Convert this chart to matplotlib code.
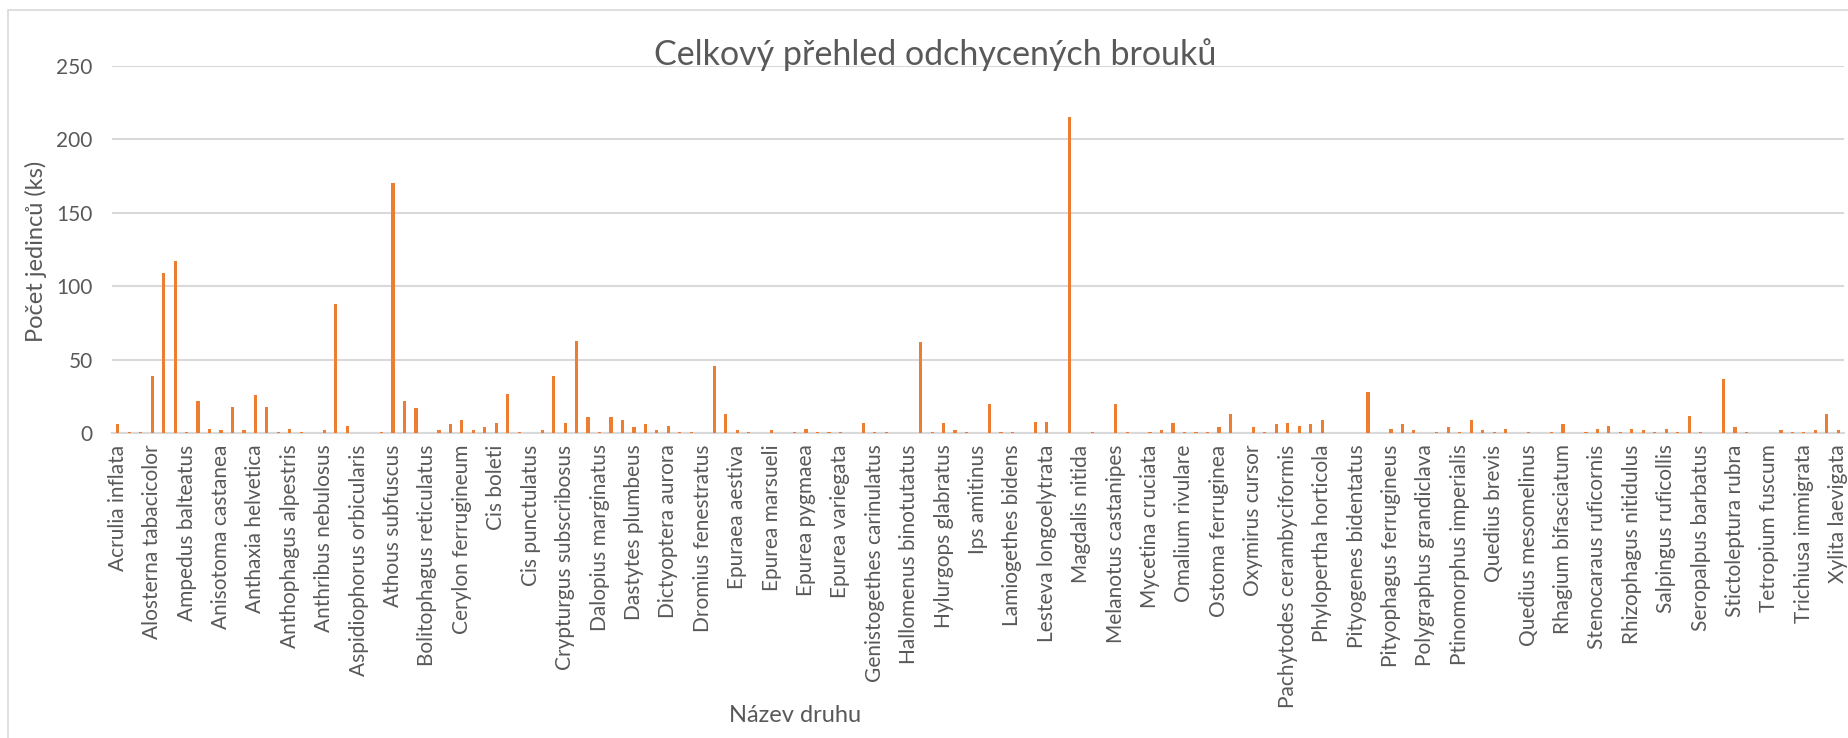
import matplotlib
matplotlib.use("Agg")
import matplotlib.pyplot as plt
from matplotlib.patches import Rectangle
import numpy as np

plt.rcParams['font.family'] = ['Lato', 'DejaVu Sans']

# Counts for all species (151 categories); only every third label is shown
counts = [6, 1, 1, 39, 109, 117, 1, 22, 3, 2, 18, 2, 26, 18, 1, 3, 1, 0, 2, 88,
          5, 0, 0, 1, 170, 22, 17, 0, 2, 6, 9, 2, 4, 7, 27, 1, 0, 2, 39, 7,
          63, 11, 1, 11, 9, 4, 6, 2, 5, 1, 1, 0, 46, 13, 2, 1, 0, 2, 0, 1,
          3, 1, 1, 1, 0, 7, 1, 1, 0, 0, 62, 1, 7, 2, 1, 0, 20, 1, 1, 0,
          8, 8, 0, 215, 0, 1, 0, 20, 1, 0, 1, 2, 7, 1, 1, 1, 4, 13, 0, 4,
          1, 6, 7, 5, 6, 9, 0, 0, 0, 28, 0, 3, 6, 2, 0, 1, 4, 1, 9, 2,
          1, 3, 0, 1, 0, 1, 6, 0, 1, 3, 5, 1, 3, 2, 1, 3, 1, 12, 1, 0,
          37, 4, 1, 0, 0, 2, 1, 1, 2, 13, 2]

shown_labels = [
    "Acrulia inflata", "Alosterna tabacicolor", "Ampedus balteatus",
    "Anisotoma castanea", "Anthaxia helvetica", "Anthophagus alpestris",
    "Anthribus nebulosus", "Aspidiophorus orbicularis", "Athous subfuscus",
    "Bolitophagus reticulatus", "Cerylon ferrugineum", "Cis boleti",
    "Cis punctulatus", "Crypturgus subscribosus", "Dalopius marginatus",
    "Dastytes plumbeus", "Dictyoptera aurora", "Dromius fenestratus",
    "Epuraea aestiva", "Epurea marsueli", "Epurea pygmaea",
    "Epurea variegata", "Genistogethes carinulatus", "Hallomenus binotutatus",
    "Hylurgops glabratus", "Ips amitinus", "Lamiogethes bidens",
    "Lesteva longoelytrata", "Magdalis nitida", "Melanotus castanipes",
    "Mycetina cruciata", "Omalium rivulare", "Ostoma ferruginea",
    "Oxymirus cursor", "Pachytodes cerambyciformis", "Phylopertha horticola",
    "Pityogenes bidentatus", "Pityophagus ferrugineus", "Polygraphus grandiclava",
    "Ptinomorphus imperialis", "Quedius brevis", "Quedius mesomelinus",
    "Rhagium bifasciatum", "Stenocaraus ruficornis", "Rhizophagus nitidulus",
    "Salpingus ruficollis", "Seropalpus barbatus", "Stictoleptura rubra",
    "Tetropium fuscum", "Trichiusa immigrata", "Xylita laevigata",
]

grey_text = "#595959"
grid_col = "#d9d9d9"

fig = plt.figure(figsize=(18.49, 7.38), dpi=100)
ax = fig.add_axes([0.0606, 0.4129, 0.9367, 0.4981])

x = np.arange(len(counts))
ax.bar(x, counts, width=0.28, color="#ED7D31", zorder=3)

ax.set_xlim(-0.5, len(counts) - 0.5)
ax.set_ylim(0, 250)
ax.set_yticks(np.arange(0, 251, 50))
ax.yaxis.grid(True, color=grid_col, linewidth=1.5, zorder=0)
ax.set_axisbelow(True)

ax.set_xticks(x[::3])
ax.set_xticklabels(shown_labels, rotation=90, fontsize=15, color=grey_text)
ax.tick_params(axis='x', length=0, pad=8)
ax.tick_params(axis='y', length=0, pad=14, labelsize=15, labelcolor=grey_text)

for side in ['top', 'right', 'left']:
    ax.spines[side].set_visible(False)
ax.spines['bottom'].set_color(grid_col)
ax.spines['bottom'].set_linewidth(1.5)

fig.text(0.0195, 0.66, "Počet jedinců (ks)", fontsize=17, color=grey_text,
         rotation=90, ha='center', va='center')
fig.text(0.43, 0.03, "Název druhu", fontsize=17, color=grey_text, ha='center', va='center')
fig.text(0.506, 0.912, "Celkový přehled odchycených brouků", fontsize=24.5,
         color=grey_text, ha='center', va='baseline')

fig.patches.append(Rectangle((0.0045, -0.2), 1.2, 1.186, transform=fig.transFigure,
                             fill=False, edgecolor=grid_col, linewidth=1.2))

fig.savefig("out.png", dpi=100)
